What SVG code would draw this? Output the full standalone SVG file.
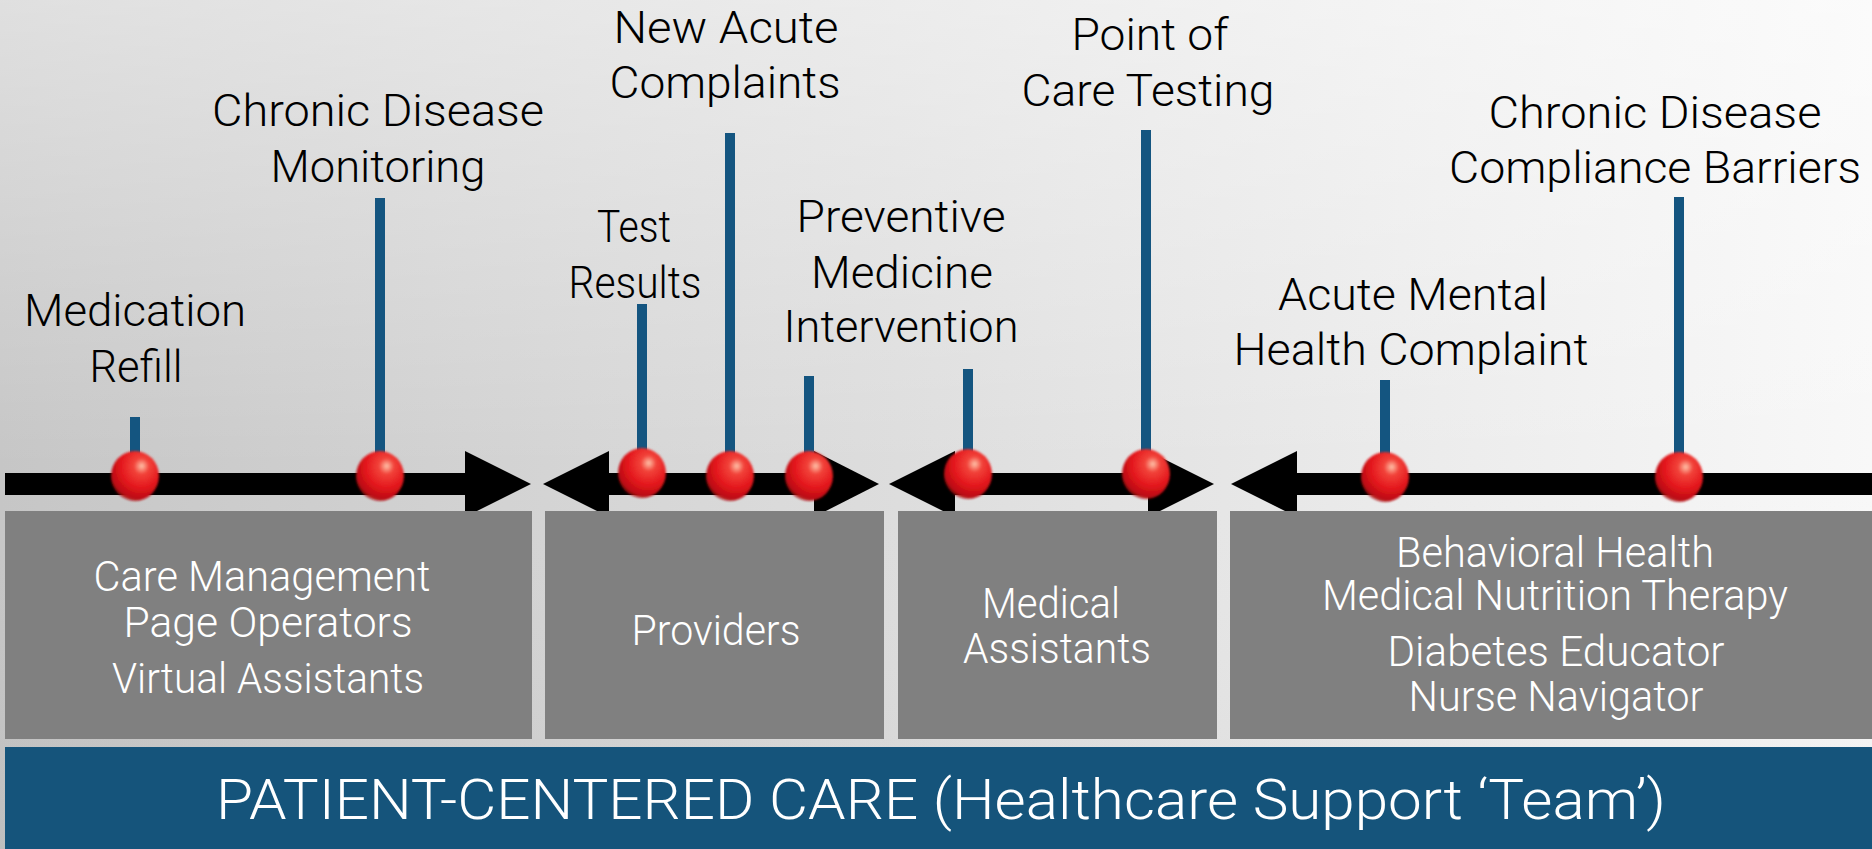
<svg xmlns="http://www.w3.org/2000/svg" width="1872" height="849" viewBox="0 0 1872 849">
<defs>
<linearGradient id="bgH" x1="0" y1="0" x2="1872" y2="0" gradientUnits="userSpaceOnUse">
<stop offset="0" stop-color="#c6c6c6"/>
<stop offset="0.5" stop-color="#dedede"/>
<stop offset="1" stop-color="#f8f8f8"/>
</linearGradient>
<linearGradient id="bgV" x1="0" y1="0" x2="0" y2="849" gradientUnits="userSpaceOnUse">
<stop offset="0" stop-color="#ffffff" stop-opacity="0.45"/>
<stop offset="0.55" stop-color="#ffffff" stop-opacity="0"/>
<stop offset="1" stop-color="#000000" stop-opacity="0.04"/>
</linearGradient>
<radialGradient id="ball" cx="0.62" cy="0.32" r="0.72" fx="0.64" fy="0.3">
<stop offset="0" stop-color="#ffc2a8"/>
<stop offset="0.22" stop-color="#f2433a"/>
<stop offset="0.6" stop-color="#e3161c"/>
<stop offset="0.9" stop-color="#b90c12"/>
<stop offset="1" stop-color="#a80a10" stop-opacity="0.6"/>
</radialGradient>
<filter id="soft" x="-20%" y="-20%" width="140%" height="140%">
<feGaussianBlur stdDeviation="0.8"/>
</filter>
</defs>
<style>
.lbl{font-family:"Roboto","Liberation Sans",sans-serif;font-weight:300;font-size:44px;fill:#000;text-anchor:middle}
.bx{font-family:"Roboto","Liberation Sans",sans-serif;font-weight:300;font-size:42px;fill:#fff;text-anchor:middle}
.band{font-family:"Roboto","Liberation Sans",sans-serif;font-weight:300;font-size:55px;fill:#fff;text-anchor:middle}
.box{fill:#808080}
.stem{fill:#145580}
.arr{fill:#000}
.ball{fill:url(#ball)}
</style>
<rect x="0" y="0" width="1872" height="849" fill="url(#bgH)"/>
<rect x="0" y="0" width="1872" height="849" fill="url(#bgV)"/>

<g id="connectors">
<rect class="arr" x="5" y="473" width="462" height="22"/>
<polygon class="arr" points="465,451 531,484 465,517"/>
<polygon class="arr" points="543,484 609,451 609,517"/>
<rect class="arr" x="607" y="473" width="209" height="22"/>
<polygon class="arr" points="814,451 879,484 814,517"/>
<polygon class="arr" points="889,484 955,451 955,517"/>
<rect class="arr" x="953" y="473" width="197" height="22"/>
<polygon class="arr" points="1148,451 1214,484 1148,517"/>
<polygon class="arr" points="1231,484 1297,451 1297,517"/>
<rect class="arr" x="1295" y="473" width="577" height="22"/>
<rect class="stem" x="130" y="417" width="10" height="60"/>
<rect class="stem" x="375" y="198" width="10" height="279"/>
<rect class="stem" x="637" y="304" width="10" height="173"/>
<rect class="stem" x="725" y="133" width="10" height="344"/>
<rect class="stem" x="804" y="376" width="10" height="101"/>
<rect class="stem" x="963" y="369" width="10" height="108"/>
<rect class="stem" x="1141" y="130" width="10" height="347"/>
<rect class="stem" x="1380" y="380" width="10" height="97"/>
<rect class="stem" x="1674" y="197" width="10" height="280"/>
</g>

<g id="box-care">
<rect class="box" x="5" y="511" width="527" height="228"/>
<text class="bx" x="262" y="591" textLength="337" lengthAdjust="spacingAndGlyphs">Care Management</text>
<text class="bx" x="268" y="637" textLength="289" lengthAdjust="spacingAndGlyphs">Page Operators</text>
<text class="bx" x="268" y="693" textLength="312" lengthAdjust="spacingAndGlyphs">Virtual Assistants</text>
</g>
<g id="box-providers">
<rect class="box" x="545" y="511" width="339" height="228"/>
<text class="bx" x="716" y="645" textLength="169" lengthAdjust="spacingAndGlyphs">Providers</text>
</g>
<g id="box-ma">
<rect class="box" x="898" y="511" width="319" height="228"/>
<text class="bx" x="1051" y="618" textLength="138" lengthAdjust="spacingAndGlyphs">Medical</text>
<text class="bx" x="1057" y="663" textLength="188" lengthAdjust="spacingAndGlyphs">Assistants</text>
</g>
<g id="box-team">
<rect class="box" x="1230" y="511" width="642" height="228"/>
<text class="bx" x="1555" y="567" textLength="318" lengthAdjust="spacingAndGlyphs">Behavioral Health</text>
<text class="bx" x="1555" y="610" textLength="466" lengthAdjust="spacingAndGlyphs">Medical Nutrition Therapy</text>
<text class="bx" x="1556" y="666" textLength="337" lengthAdjust="spacingAndGlyphs">Diabetes Educator</text>
<text class="bx" x="1556" y="711" textLength="295" lengthAdjust="spacingAndGlyphs">Nurse Navigator</text>
</g>
<g id="band">
<rect x="5" y="747" width="1867" height="102" fill="#15547b"/>
<text class="band" x="941" y="819" textLength="1450" lengthAdjust="spacingAndGlyphs">PATIENT-CENTERED CARE (Healthcare Support ‘Team’)</text>
</g>

<g id="ev-med-refill">
<text class="lbl" x="135" y="326" textLength="222" lengthAdjust="spacingAndGlyphs">Medication</text>
<text class="lbl" x="136" y="382" textLength="93" lengthAdjust="spacingAndGlyphs">Refill</text>
<ellipse class="ball" cx="135" cy="476" rx="24" ry="25" filter="url(#soft)"/>
</g>
<g id="ev-chronic-monitoring">
<text class="lbl" x="378" y="126" textLength="332" lengthAdjust="spacingAndGlyphs">Chronic Disease</text>
<text class="lbl" x="378" y="182" textLength="215" lengthAdjust="spacingAndGlyphs">Monitoring</text>
<ellipse class="ball" cx="380" cy="476" rx="24" ry="25" filter="url(#soft)"/>
</g>
<g id="ev-test-results">
<text class="lbl" x="634" y="242" textLength="74" lengthAdjust="spacingAndGlyphs">Test</text>
<text class="lbl" x="635" y="298" textLength="133" lengthAdjust="spacingAndGlyphs">Results</text>
<ellipse class="ball" cx="642" cy="473" rx="24" ry="25" filter="url(#soft)"/>
</g>
<g id="ev-new-acute">
<text class="lbl" x="726" y="43" textLength="225" lengthAdjust="spacingAndGlyphs">New Acute</text>
<text class="lbl" x="725" y="98" textLength="231" lengthAdjust="spacingAndGlyphs">Complaints</text>
<ellipse class="ball" cx="730" cy="476" rx="24" ry="25" filter="url(#soft)"/>
</g>
<g id="ev-preventive">
<text class="lbl" x="901" y="232" textLength="209" lengthAdjust="spacingAndGlyphs">Preventive</text>
<text class="lbl" x="902" y="288" textLength="182" lengthAdjust="spacingAndGlyphs">Medicine</text>
<text class="lbl" x="901" y="342" textLength="235" lengthAdjust="spacingAndGlyphs">Intervention</text>
<ellipse class="ball" cx="809" cy="476" rx="24" ry="25" filter="url(#soft)"/>
</g>
<g id="ev-ma">
<ellipse class="ball" cx="968" cy="474" rx="24" ry="25" filter="url(#soft)"/>
</g>
<g id="ev-poc-testing">
<text class="lbl" x="1150" y="50" textLength="157" lengthAdjust="spacingAndGlyphs">Point of</text>
<text class="lbl" x="1148" y="106" textLength="253" lengthAdjust="spacingAndGlyphs">Care Testing</text>
<ellipse class="ball" cx="1146" cy="474" rx="24" ry="25" filter="url(#soft)"/>
</g>
<g id="ev-mental-health">
<text class="lbl" x="1413" y="310" textLength="270" lengthAdjust="spacingAndGlyphs">Acute Mental</text>
<text class="lbl" x="1411" y="365" textLength="355" lengthAdjust="spacingAndGlyphs">Health Complaint</text>
<ellipse class="ball" cx="1385" cy="477" rx="24" ry="25" filter="url(#soft)"/>
</g>
<g id="ev-compliance">
<text class="lbl" x="1655" y="128" textLength="333" lengthAdjust="spacingAndGlyphs">Chronic Disease</text>
<text class="lbl" x="1655" y="183" textLength="412" lengthAdjust="spacingAndGlyphs">Compliance Barriers</text>
<ellipse class="ball" cx="1679" cy="477" rx="24" ry="25" filter="url(#soft)"/>
</g>
</svg>
